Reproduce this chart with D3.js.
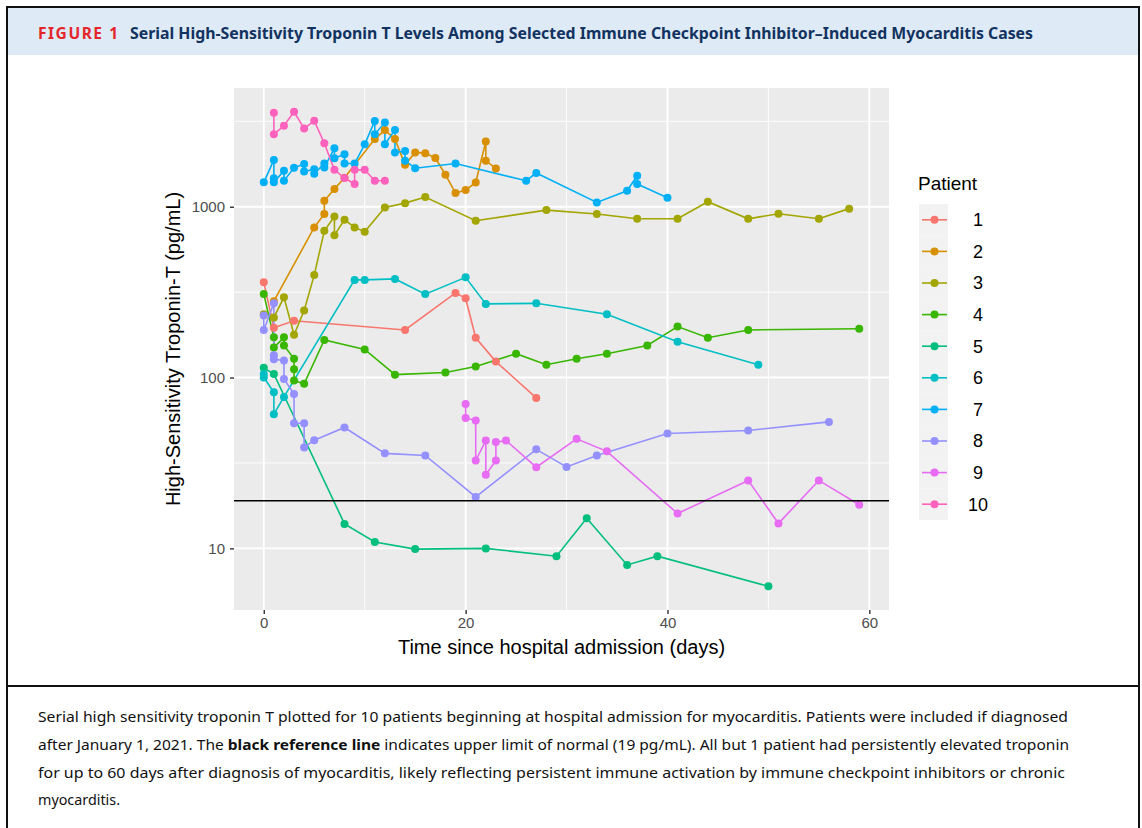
<!DOCTYPE html>
<html>
<head>
<meta charset="utf-8">
<script src="https://cdn.jsdelivr.net/npm/d3@7"></script>
<style>
  html, body { margin: 0; padding: 0; background: #fff; }
  svg { display: block; }
</style>
</head>
<body>
<div id="chart"></div>
<script>
// patient series (day, hs-TnT pg/mL)
const patients = ["1", "2", "3", "4", "5", "6", "7", "8", "9", "10"];
const colors = ["#F8766D", "#D89000", "#A3A500", "#39B600", "#00BF7D", "#00BFC4", "#00B0F6", "#9590FF", "#E76BF3", "#FF62BC"];

const p1Days = [0, 1, 3, 14, 19, 20, 21, 23, 27];
const p1Vals = [361, 196, 215, 190, 313, 291, 171, 124, 76];

const p2Days = [1, 5, 6, 6, 7, 8, 11, 12, 13, 14, 15, 16, 17, 18, 19, 20, 21, 22, 22, 23];
const p2Vals = [280, 757, 906, 1084, 1269, 1480, 2490, 2810, 2490, 1760, 2080, 2060, 1930, 1540, 1203, 1252, 1387, 2410, 1857, 1676];

const p3Days = [0, 1, 2, 3, 4, 5, 6, 7, 7, 8, 9, 10, 12, 14, 16, 21, 28, 33, 37, 41, 44, 48, 51, 55, 58];
const p3Vals = [235, 225, 295, 178, 247, 398, 724, 877, 682, 839, 757, 714, 990, 1050, 1140, 828, 956, 906, 850, 850, 1070, 850, 910, 850, 975];

const p4Days = [0, 1, 1, 2, 2, 3, 3, 3, 4, 6, 10, 13, 18, 21, 25, 28, 31, 34, 38, 41, 44, 48, 59];
const p4Vals = [308, 172, 150, 172, 154, 129, 112, 96, 92, 166, 146, 104, 107, 116, 138, 119, 129, 138, 154, 199, 171, 190, 193];

const p5Days = [0, 1, 8, 11, 15, 22, 29, 32, 36, 39, 50];
const p5Vals = [114, 105, 13.9, 10.9, 9.9, 10, 9, 15, 8, 9, 6];

const p6Days = [0, 0, 1, 1, 2, 9, 10, 13, 16, 20, 22, 27, 34, 41, 49];
const p6Vals = [105, 100, 82, 61, 77, 373, 373, 378, 308, 386, 270, 272, 235, 162, 119];

const p7Days = [0, 1, 1, 1, 2, 2, 3, 4, 4, 5, 5, 6, 6, 7, 7, 8, 8, 9, 10, 11, 11, 12, 12, 13, 13, 14, 14, 15, 19, 26, 27, 33, 36, 37, 37, 40];
const p7Vals = [1390, 1880, 1470, 1390, 1625, 1420, 1690, 1780, 1610, 1660, 1560, 1790, 1700, 2200, 1920, 2030, 1790, 1790, 2320, 3180, 2660, 3110, 2320, 2810, 2080, 2120, 1860, 1680, 1790, 1420, 1575, 1060, 1240, 1520, 1360, 1130];

const p8Days = [0, 0, 1, 1, 1, 2, 2, 3, 3, 4, 4, 5, 8, 12, 16, 21, 27, 30, 33, 40, 48, 56];
const p8Vals = [231, 190, 272, 135, 128, 126, 98, 80, 54, 54, 39, 43, 51, 36, 35, 20, 38, 30, 35, 47, 49, 55];

const p9Days = [20, 20, 21, 21, 22, 22, 23, 23, 24, 27, 31, 34, 41, 48, 51, 55, 59];
const p9Vals = [70, 58, 56, 32.7, 42.8, 27, 32.7, 41.9, 42.8, 29.9, 43.8, 37, 16, 25, 14, 25, 18];

const p10Days = [1, 1, 2, 3, 4, 5, 6, 7, 8, 9, 9, 10, 11, 12];
const p10Vals = [3550, 2660, 2980, 3600, 2870, 3185, 2355, 1645, 1473, 1358, 1645, 1645, 1420, 1420];

const upperLimit = 19;
const xTicks = [0, 20, 40, 60];
const xMinor = [10, 30, 50];
const yTicks = [10, 100, 1000];

const titleLabel = "FIGURE 1";
const titleText = "Serial High-Sensitivity Troponin T Levels Among Selected Immune Checkpoint Inhibitor\u2013Induced Myocarditis Cases";
const xTitle = "Time since hospital admission (days)";
const yTitle = "High-Sensitivity Troponin-T (pg/mL)";

const allDays = [p1Days, p2Days, p3Days, p4Days, p5Days, p6Days, p7Days, p8Days, p9Days, p10Days];
const allVals = [p1Vals, p2Vals, p3Vals, p4Vals, p5Vals, p6Vals, p7Vals, p8Vals, p9Vals, p10Vals];

const series = patients.map((p, i) => ({
  id: p,
  color: colors[i],
  points: allDays[i].map((d, j) => ({ day: d, value: allVals[i][j] }))
}));

const width = 1142;
const height = 828;

const svg = d3.select("#chart")
  .append("svg")
  .attr("width", width)
  .attr("height", height);

// ---- frame / header ----
svg.append("rect")
  .attr("x", 7).attr("y", 8)
  .attr("width", 1132).attr("height", 47)
  .attr("fill", "#DEEAF6");

const frame = svg.append("g")
  .attr("stroke", "#111")
  .attr("stroke-width", 2)
  .attr("fill", "none");
frame.append("rect").attr("x", 7).attr("y", 7).attr("width", 1132).attr("height", 830);
frame.append("line").attr("x1", 7).attr("x2", 1139).attr("y1", 686).attr("y2", 686);

svg.append("text")
  .attr("x", 38).attr("y", 38.5)
  .attr("font-family", "'Noto Sans', 'Open Sans', sans-serif")
  .attr("font-weight", "bold")
  .attr("font-size", 15.5)
  .attr("fill", "#E4262B")
  .attr("textLength", 80)
  .attr("lengthAdjust", "spacing")
  .text(titleLabel);
svg.append("text")
  .attr("x", 130).attr("y", 38.5)
  .attr("font-family", "'Noto Sans', 'Open Sans', sans-serif")
  .attr("font-weight", "bold")
  .attr("font-size", 16)
  .attr("fill", "#12325F")
  .attr("textLength", 903)
  .attr("lengthAdjust", "spacingAndGlyphs")
  .text(titleText);

// ---- plot panel ----
const panel = { left: 234, right: 889, top: 88, bottom: 610 };

const dayExtent = d3.extent(series.flatMap(s => s.points), d => d.day);
const logExtent = d3.extent(series.flatMap(s => s.points), d => Math.log10(d.value));
const padX = (dayExtent[1] - dayExtent[0]) * 0.05;
const padY = (logExtent[1] - logExtent[0]) * 0.05;

const x = d3.scaleLinear()
  .domain([dayExtent[0] - padX, dayExtent[1] + padX])
  .range([panel.left, panel.right]);

const y = d3.scaleLog()
  .domain([Math.pow(10, logExtent[0] - padY), Math.pow(10, logExtent[1] + padY)])
  .range([panel.bottom, panel.top]);

const yMinor = yTicks.map(t => t * Math.sqrt(10)).concat([Math.sqrt(10)])
  .filter(v => v > y.domain()[0] && v < y.domain()[1]);

svg.append("rect")
  .attr("x", panel.left).attr("y", panel.top)
  .attr("width", panel.right - panel.left)
  .attr("height", panel.bottom - panel.top)
  .attr("fill", "#EBEBEB");

const grid = svg.append("g").attr("stroke", "#fff");
grid.selectAll(".xminor").data(xMinor).join("line")
  .attr("x1", d => x(d)).attr("x2", d => x(d))
  .attr("y1", panel.top).attr("y2", panel.bottom)
  .attr("stroke-width", 0.9);
grid.selectAll(".yminor").data(yMinor).join("line")
  .attr("y1", d => y(d)).attr("y2", d => y(d))
  .attr("x1", panel.left).attr("x2", panel.right)
  .attr("stroke-width", 0.9);
grid.selectAll(".xmajor").data(xTicks).join("line")
  .attr("x1", d => x(d)).attr("x2", d => x(d))
  .attr("y1", panel.top).attr("y2", panel.bottom)
  .attr("stroke-width", 1.9);
grid.selectAll(".ymajor").data(yTicks).join("line")
  .attr("y1", d => y(d)).attr("y2", d => y(d))
  .attr("x1", panel.left).attr("x2", panel.right)
  .attr("stroke-width", 1.9);

// axes
const xAxis = svg.append("g")
  .attr("transform", `translate(0,${panel.bottom})`)
  .call(d3.axisBottom(x).tickValues(xTicks).tickSize(4).tickPadding(3).tickFormat(d3.format("d")));
const yAxis = svg.append("g")
  .attr("transform", `translate(${panel.left},0)`)
  .call(d3.axisLeft(y).tickValues(yTicks).tickSize(4).tickPadding(5).tickFormat(d3.format("d")));

[xAxis, yAxis].forEach(ax => {
  ax.select(".domain").remove();
  ax.selectAll(".tick line").attr("stroke", "#333").attr("stroke-width", 1.4);
  ax.selectAll(".tick text")
    .attr("fill", "#4D4D4D")
    .attr("font-family", "'Liberation Sans', Arial, sans-serif")
    .attr("font-size", 15);
});

svg.append("text")
  .attr("x", (panel.left + panel.right) / 2)
  .attr("y", 654)
  .attr("text-anchor", "middle")
  .attr("font-family", "'Liberation Sans', Arial, sans-serif")
  .attr("font-size", 20)
  .attr("fill", "#000")
  .text(xTitle);

svg.append("text")
  .attr("transform", `translate(180,${(panel.top + panel.bottom) / 2}) rotate(-90)`)
  .attr("text-anchor", "middle")
  .attr("font-family", "'Liberation Sans', Arial, sans-serif")
  .attr("font-size", 20)
  .attr("fill", "#000")
  .text(yTitle);

// series
const line = d3.line().x(d => x(d.day)).y(d => y(d.value));
const gSeries = svg.append("g");
series.forEach(s => {
  gSeries.append("path")
    .datum(s.points)
    .attr("fill", "none")
    .attr("stroke", s.color)
    .attr("stroke-width", 1.6)
    .attr("d", line);
});
series.forEach(s => {
  gSeries.append("g").selectAll("circle")
    .data(s.points)
    .join("circle")
    .attr("cx", d => x(d.day))
    .attr("cy", d => y(d.value))
    .attr("r", 4)
    .attr("fill", s.color);
});

// upper limit of normal
svg.append("line")
  .attr("x1", panel.left).attr("x2", panel.right)
  .attr("y1", y(upperLimit)).attr("y2", y(upperLimit))
  .attr("stroke", "#000")
  .attr("stroke-width", 1.6);

// ---- legend ----
const legend = svg.append("g").attr("transform", "translate(919,204)");
const keyH = 31.6;
legend.append("text")
  .attr("x", -1).attr("y", -14)
  .attr("font-family", "'Liberation Sans', Arial, sans-serif")
  .attr("font-size", 19)
  .text("Patient");
const item = legend.selectAll(".item").data(series).join("g")
  .attr("transform", (d, i) => `translate(0,${i * keyH})`);
item.append("rect")
  .attr("width", 29).attr("height", keyH)
  .attr("fill", "#F2F2F2");
item.append("line")
  .attr("x1", 3).attr("x2", 28)
  .attr("y1", keyH / 2).attr("y2", keyH / 2)
  .attr("stroke", d => d.color)
  .attr("stroke-width", 1.6);
item.append("circle")
  .attr("cx", 15.5).attr("cy", keyH / 2)
  .attr("r", 4)
  .attr("fill", d => d.color);
item.append("text")
  .attr("x", 59).attr("y", keyH / 2 + 6.5)
  .attr("text-anchor", "middle")
  .attr("font-family", "'Liberation Sans', Arial, sans-serif")
  .attr("font-size", 18)
  .text(d => d.id);

// ---- caption ----
const captionLines = [
  [{ t: "Serial high sensitivity troponin T plotted for 10 patients beginning at hospital admission for myocarditis. Patients were included if diagnosed" }],
  [{ t: "after January 1, 2021. The " }, { t: "black reference line", b: true }, { t: " indicates upper limit of normal (19 pg/mL). All but 1 patient had persistently elevated troponin" }],
  [{ t: "for up to 60 days after diagnosis of myocarditis, likely reflecting persistent immune activation by immune checkpoint inhibitors or chronic" }],
  [{ t: "myocarditis." }]
];
const captionWidths = [1030, 1031, 1027, 82];

captionLines.forEach((parts, i) => {
  const txt = svg.append("text")
    .attr("x", 38)
    .attr("y", 722 + i * 27.8)
    .attr("font-family", "'Noto Sans', 'Open Sans', sans-serif")
    .attr("font-size", 15)
    .attr("fill", "#111");
  if (captionWidths[i]) {
    txt.attr("textLength", captionWidths[i]).attr("lengthAdjust", "spacingAndGlyphs");
  }
  parts.forEach(p => {
    txt.append("tspan")
      .attr("font-weight", p.b ? "bold" : "normal")
      .text(p.t);
  });
});
</script>
</body>
</html>
